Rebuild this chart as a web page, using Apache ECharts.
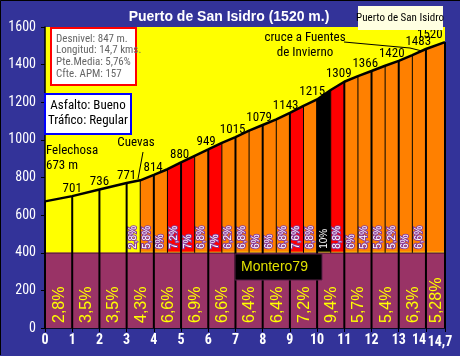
<!DOCTYPE html>
<html><head><meta charset="utf-8">
<script src="https://cdn.jsdelivr.net/npm/echarts@6/dist/echarts.min.js"></script>
<style>html,body{margin:0;padding:0;background:#333399}#c{width:460px;height:356px}</style>
</head><body><div id="c"></div>
<script>
// ---------- data ----------
const chartTitle = 'Puerto de San Isidro (1520 m.)';
const seriesName = 'Puerto de San Isidro';
const kmPoints = [0, 1, 2, 3, 4, 5, 6, 7, 8, 9, 10, 11, 12, 13, 14, 14.7];
const kmElevations = [673, 701, 736, 771, 814, 880, 949, 1015, 1079, 1143, 1215, 1309, 1366, 1420, 1483, 1520];
const kmGradients = [2.8, 3.5, 3.5, 4.3, 6.6, 6.9, 6.6, 6.4, 6.4, 7.2, 9.4, 5.7, 5.4, 6.3, 5.28];
const halfPoints = [3.5, 4.5, 5.5, 6.5, 7.5, 8.5, 9.5, 10.5, 11.5, 12.5, 13.5];
const halfElevations = [785, 844, 915, 984, 1049, 1109, 1181, 1265, 1339, 1394, 1450];
const halfGradients = [2.8, 5.8, 6, 7.2, 7, 6.8, 7, 6.2, 6.8, 6, 6, 6.8, 7.6, 6.8, 10, 8.8, 6, 5.4, 5.6, 5.2, 6, 6.6];
const bandTop = 400;
const yTicks = [0, 200, 400, 600, 800, 1000, 1200, 1400, 1600];
const infoLines = ['Desnivel: 847 m.', 'Longitud: 14,7 kms.', 'Pte.Media: 5,76%', 'Cfte. APM: 157'];
const roadLines = ['Asfalto: Bueno', 'Tráfico: Regular'];
const startPlace = 'Felechosa';
const place2 = 'Cuevas';
const place3 = 'cruce a Fuentes\nde Invierno';
const author = 'Montero79';

// ---------- derived ----------
const X_MAX = kmPoints[kmPoints.length - 1];
const halfFrom = halfPoints[0] - 0.5, halfTo = halfPoints[halfPoints.length - 1] + 0.5;
const profile = kmPoints.map((x, i) => [x, kmElevations[i]])
  .concat(halfPoints.map((x, i) => [x, halfElevations[i]]))
  .sort((a, b) => a[0] - b[0]);
const segs = [];
let hk = 0;
for (let j = 0; j < profile.length - 1; j++) {
  const [x0, e0] = profile[j], [x1, e1] = profile[j + 1];
  const isHalf = x0 >= halfFrom - 1e-9 && x1 <= halfTo + 1e-9;
  const grad = isHalf ? halfGradients[hk++] : kmGradients[Math.floor(x0)];
  segs.push({ x0, x1, e0, e1, grad, isHalf });
}
function colorFor(g) {
  if (g < 4) return '#FFFF00';
  if (g < 7) return '#FF8000';
  if (g < 9.5) return '#FF0000';
  return '#000000';
}
const fmt = v => String(v).replace('.', ',');
const isKm = x => Math.abs(x - Math.round(x)) < 1e-9 || Math.abs(x - X_MAX) < 1e-9;

const COND = "'Roboto Condensed', 'Liberation Sans', sans-serif";
const SANS = "'Liberation Sans', Arial, sans-serif";

const chart = echarts.init(document.getElementById('c'));
const option = {
  backgroundColor: '#333399',
  animation: false,
  grid: { left: 45, right: 15, top: 27, bottom: 28, show: true, backgroundColor: '#FFFF00', borderWidth: 0 },
  xAxis: {
    type: 'value', min: 0, max: X_MAX, interval: 1,
    axisLine: { lineStyle: { color: '#000', width: 1.5 } },
    axisTick: { show: true, length: 4, lineStyle: { color: '#000' } },
    splitLine: { show: false },
    axisLabel: {
      color: '#fff', fontFamily: COND, fontWeight: 'bold', fontSize: 14, margin: 5, hideOverlap: false,
      showMaxLabel: true, showMinLabel: true,
      formatter: v => {
        if (Math.abs(v - 14) < 1e-9) return '{l|14}';
        if (Math.abs(v - X_MAX) < 1e-9) return '{m|' + fmt(X_MAX) + '}';
        return fmt(v);
      },
      rich: {
        l: { color: '#fff', fontFamily: COND, fontWeight: 'bold', fontSize: 14, padding: [0, 14, 0, 0] },
        m: { color: '#fff', fontFamily: COND, fontWeight: 'bold', fontSize: 14, padding: [2, 10, 0, 0] }
      }
    }
  },
  yAxis: {
    type: 'value', min: yTicks[0], max: yTicks[yTicks.length - 1], interval: yTicks[1] - yTicks[0],
    axisLine: { show: true, lineStyle: { color: '#000', width: 1.5 } },
    axisTick: { show: true, length: 4, lineStyle: { color: '#000' } },
    splitLine: { show: false },
    axisLabel: { color: '#fff', fontFamily: COND, fontSize: 14, margin: 9, formatter: v => String(v) }
  },
  series: [
    { // purple bottom band
      type: 'custom', z: 1, silent: true,
      data: [[0, 0, X_MAX, bandTop]],
      encode: { x: [0, 2], y: [1, 3] },
      renderItem: (params, api) => {
        const p0 = api.coord([0, bandTop]), p1 = api.coord([X_MAX, 0]);
        return { type: 'group', children: [
          { type: 'rect', shape: { x: p0[0], y: p0[1], width: p1[0] - p0[0], height: p1[1] - p0[1] }, style: { fill: '#993366' } },
          { type: 'line', shape: { x1: p0[0], y1: p0[1] + 0.5, x2: p1[0], y2: p0[1] + 0.5 }, style: { stroke: '#6a2246', lineWidth: 1.5 } }
        ] };
      }
    },
    { // gradient segments
      type: 'custom', z: 2, silent: true,
      data: segs.map(s => [s.x0, s.e0, s.x1, s.e1]),
      encode: { x: [0, 2], y: [1, 3] },
      renderItem: (params, api) => {
        const s = segs[params.dataIndex];
        const a = api.coord([s.x0, bandTop]), b = api.coord([s.x0, s.e0]);
        const c = api.coord([s.x1, s.e1]), d = api.coord([s.x1, bandTop]);
        const children = [{ type: 'polygon', shape: { points: [[a[0], a[1] - 1], b, c, [d[0], d[1] - 1]] }, style: { fill: colorFor(s.grad) } }];
        if (s.isHalf) {
          children.push({
            type: 'text', x: (a[0] + d[0]) / 2, y: a[1] - 4, rotation: Math.PI / 2,
            style: { text: fmt(s.grad) + '%', fill: '#ffffff', stroke: s.grad >= 9.5 ? null : '#8a3c9a', lineWidth: 2,
              font: '10px ' + SANS, align: 'left', verticalAlign: 'middle' }
          });
        }
        return { type: 'group', children };
      }
    },
    { // vertical km / half-km lines
      type: 'custom', z: 3, silent: true,
      data: profile,
      encode: { x: 0, y: 1 },
      renderItem: (params, api) => {
        const [x, e] = profile[params.dataIndex];
        const k = isKm(x);
        const p0 = api.coord([x, k ? 0 : bandTop]), p1 = api.coord([x, e]);
        return { type: 'line', shape: { x1: p0[0], y1: p0[1], x2: p1[0], y2: p1[1] }, style: { stroke: '#000', lineWidth: k ? 2 : 1 } };
      }
    },
    { // km average gradient labels in the band
      type: 'custom', z: 4, silent: true,
      data: kmGradients.map((g, i) => [kmPoints[i], 0, kmPoints[i + 1], g]),
      encode: { x: [0, 2], y: 1 },
      renderItem: (params, api) => {
        const i = params.dataIndex;
        const p0 = api.coord([kmPoints[i], 0]), p1 = api.coord([kmPoints[i + 1], 0]);
        return { type: 'text', x: (p0[0] + p1[0]) / 2 + 1, y: p0[1] - 5, rotation: Math.PI / 2,
          style: { text: fmt(kmGradients[i]) + '%', fill: '#FFFF00', font: '16px ' + SANS, align: 'left', verticalAlign: 'middle' } };
      }
    },
    { // profile line
      name: seriesName, type: 'line', z: 5, silent: true,
      data: profile, symbol: 'none', smooth: false,
      lineStyle: { color: '#000', width: 2.5 }
    },
    { // elevation labels
      type: 'custom', z: 6, silent: true,
      data: kmPoints.slice(1).map((x, i) => [x, kmElevations[i + 1]]),
      encode: { x: 0, y: 1 },
      renderItem: (params, api) => {
        const i = params.dataIndex + 1;
        const p = api.coord([kmPoints[i], kmElevations[i]]);
        const right = api.coord([X_MAX, 0])[0] - 2;
        const txt = String(kmElevations[i]);
        let cx = p[0] - Math.max(0, kmPoints[i] - 3) * 0.7;
        const half = txt.length * 3.3;
        if (cx + half > right) cx = right - half;
        return { type: 'text', x: cx, y: p[1] - 1,
          style: { text: txt, fill: '#000', font: '13px ' + COND, align: 'center', verticalAlign: 'bottom' } };
      }
    }
  ],
  graphic: [
    { type: 'polyline', z: 100, shape: { points: [[0.5, 355], [0.5, 0.5], [460, 0.5]] }, style: { stroke: '#000', lineWidth: 1, fill: null } },
    { type: 'text', z: 100, x: 229, y: 17, style: { text: chartTitle, fill: '#fff', font: 'bold 14px ' + SANS, align: 'center', verticalAlign: 'middle' } },
    { type: 'rect', z: 100, shape: { x: 358, y: 6, width: 85, height: 24 }, style: { fill: '#FFFFE1' } },
    { type: 'text', z: 101, x: 400, y: 18, style: { text: seriesName, fill: '#000', font: '11px ' + COND, align: 'center', verticalAlign: 'middle' } },
    { type: 'rect', z: 100, shape: { x: 51, y: 28, width: 85, height: 57 }, style: { fill: '#fff', stroke: '#FF0000', lineWidth: 2 } },
    { type: 'text', z: 101, x: 56, y: 33, style: { text: infoLines.join('\n'), fill: '#666', font: '11px ' + COND, lineHeight: 11.7, align: 'left', verticalAlign: 'top' } },
    { type: 'rect', z: 100, shape: { x: 45, y: 94, width: 86, height: 40 }, style: { fill: '#fff', stroke: '#0000FF', lineWidth: 2 } },
    { type: 'text', z: 101, x: 88, y: 113.5, style: { text: roadLines.join('\n'), fill: '#000', font: '13px ' + COND, lineHeight: 15, align: 'center', verticalAlign: 'middle' } },
    { type: 'text', z: 100, x: 46, y: 158.5, style: { text: startPlace + '\n' + kmElevations[0] + ' m', fill: '#000', font: '13px ' + COND, lineHeight: 15, align: 'left', verticalAlign: 'middle' } },
    { type: 'text', z: 100, x: 136, y: 143, style: { text: place2, fill: '#000', font: '13px ' + COND, align: 'center', verticalAlign: 'middle' } },
    { type: 'polyline', z: 100, shape: { points: [[143, 152], [138, 179]] }, style: { stroke: '#000', lineWidth: 1 } },
    { type: 'text', z: 100, x: 305, y: 45.5, style: { text: place3, fill: '#000', font: '13px ' + COND, lineHeight: 15, align: 'center', verticalAlign: 'middle' } },
    { type: 'polyline', z: 100, shape: { points: [[344, 42], [410, 48], [422, 51]] }, style: { stroke: '#000', lineWidth: 1 } },
    { type: 'rect', z: 100, shape: { x: 235, y: 254, width: 87, height: 26 }, style: { fill: '#000', stroke: '#5a2048', lineWidth: 1 } },
    { type: 'text', z: 101, x: 241, y: 267.5, style: { text: author, fill: '#E0E000', font: '14px ' + SANS, align: 'left', verticalAlign: 'middle' } }
  ]
};
chart.setOption(option);
</script>
</body></html>
